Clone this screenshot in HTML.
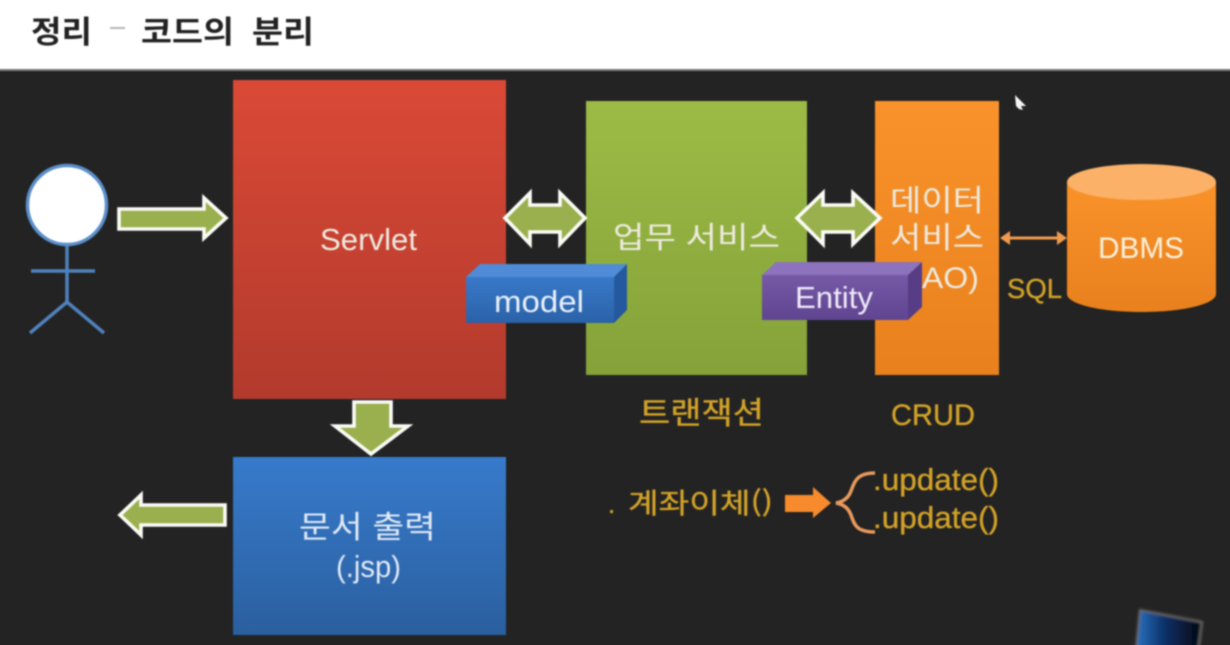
<!DOCTYPE html>
<html lang="ko">
<head>
<meta charset="utf-8">
<title>정리 - 코드의 분리</title>
<style>
html,body{margin:0;padding:0;width:1230px;height:645px;overflow:hidden;background:#232323}
#wrap{position:relative;width:1230px;height:645px;overflow:hidden;contain:strict}
svg{display:block;position:absolute;left:-10px;top:-10px;filter:blur(.75px)}
text{font-family:"Liberation Sans","NanumGothic","Noto Sans CJK KR",sans-serif}
.k{font-family:"Noto Sans CJK KR","NanumGothic","Liberation Sans",sans-serif}
.w{fill:#eeeadf}
.g{fill:#d2a228;stroke:#d2a228;stroke-width:.35}
.ar{fill:#9ab04f;stroke:#fafaf5;stroke-width:3.6;stroke-linejoin:miter}
</style>
</head>
<body>
<div id="wrap">
<svg width="1250" height="665" viewBox="-10 -10 1250 665" xmlns="http://www.w3.org/2000/svg">
<defs>
<linearGradient id="red" x1="0" y1="0" x2="0" y2="1"><stop offset="0" stop-color="#da4936"/><stop offset="1" stop-color="#b23a2c"/></linearGradient>
<linearGradient id="grn" x1="0" y1="0" x2="0" y2="1"><stop offset="0" stop-color="#9cbb45"/><stop offset="1" stop-color="#84a239"/></linearGradient>
<linearGradient id="org" x1="0" y1="0" x2="0" y2="1"><stop offset="0" stop-color="#f9922a"/><stop offset="1" stop-color="#e8811d"/></linearGradient>
<linearGradient id="blu" x1="0" y1="0" x2="0" y2="1"><stop offset="0" stop-color="#377acb"/><stop offset="1" stop-color="#2a5f9f"/></linearGradient>
<linearGradient id="mf" x1="0" y1="0" x2="0" y2="1"><stop offset="0" stop-color="#3878c8"/><stop offset="1" stop-color="#2a62a8"/></linearGradient>
<linearGradient id="ef" x1="0" y1="0" x2="0" y2="1"><stop offset="0" stop-color="#7659a6"/><stop offset="1" stop-color="#5f4490"/></linearGradient>
<linearGradient id="db" x1="0" y1="0" x2="0" y2="1"><stop offset="0" stop-color="#f9922a"/><stop offset="1" stop-color="#e8811d"/></linearGradient>
<linearGradient id="logo" x1="0" y1="0" x2="1" y2="0"><stop offset="0" stop-color="#2a74c4"/><stop offset=".45" stop-color="#0a2f66"/><stop offset="1" stop-color="#05070e"/></linearGradient>
<filter id="soft" x="-20%" y="-20%" width="140%" height="140%"><feGaussianBlur stdDeviation="1.300"/></filter>
</defs>

<rect x="-10" y="-10" width="1250" height="665" fill="#232323"/>
<rect x="-10" y="-10" width="1250" height="79" fill="#fff"/>
<rect x="-10" y="69" width="1250" height="2" fill="#7a7a7a"/>

<text class="k" x="31" y="43" font-size="31" font-weight="700" fill="#222" textLength="61" lengthAdjust="spacingAndGlyphs">정리</text>
<rect x="110" y="27" width="15" height="2" fill="#b5b5b5"/>
<text class="k" x="141" y="43" font-size="31" font-weight="700" fill="#222" textLength="93" lengthAdjust="spacingAndGlyphs">코드의</text>
<text class="k" x="252" y="43" font-size="31" font-weight="700" fill="#222" textLength="62" lengthAdjust="spacingAndGlyphs">분리</text>

<!-- person -->
<g stroke="#4f81bd" stroke-width="3.500" fill="none">
<line x1="67" y1="246" x2="67" y2="302"/>
<line x1="31" y1="271" x2="95" y2="271"/>
<polyline points="30,333 67,302 104,333"/>
</g>
<circle cx="67" cy="205" r="39.500" fill="#fff" stroke="#5b8fcb" stroke-width="3.500"/>

<!-- main blocks -->
<rect x="233" y="80" width="273" height="319" fill="url(#red)"/>
<rect x="586" y="101" width="221" height="274" fill="url(#grn)"/>
<rect x="875" y="101" width="124" height="274" fill="url(#org)"/>
<rect x="233" y="457" width="273" height="178" fill="url(#blu)"/>

<!-- arrows -->
<polygon class="ar" points="119,209 204,209 204,198 226,218 204,238 204,229 119,229"/>
<polygon class="ar" points="505,218 530,193 530,205 560,205 560,193 585,218 560,244 560,232 530,232 530,244"/>
<polygon class="ar" points="797,218 823,193 823,205 853,205 853,193 880,218 853,244 853,232 823,232 823,244"/>
<polygon class="ar" points="354,402 391,402 391,426 408,426 371,454 335,426 354,426"/>
<polygon class="ar" points="225,505 141,505 141,495 120,515 141,535 141,525 225,525"/>

<text x="320" y="250" font-size="31" class="w" textLength="97" lengthAdjust="spacingAndGlyphs">Servlet</text>
<text class="k w" x="613" y="248" font-size="30" textLength="167" lengthAdjust="spacingAndGlyphs">업무 서비스</text>
<text class="k w" x="890" y="211" font-size="30" textLength="94" lengthAdjust="spacingAndGlyphs">데이터</text>
<text class="k w" x="890" y="248" font-size="30" textLength="94" lengthAdjust="spacingAndGlyphs">서비스</text>
<text x="888" y="288" font-size="30" class="w" textLength="91" lengthAdjust="spacingAndGlyphs">(DAO)</text>
<text class="k" x="299" y="538" font-size="31" fill="#dfe9f5" textLength="137" lengthAdjust="spacingAndGlyphs">문서 출력</text>
<text x="336" y="577" font-size="31" fill="#dfe9f5" textLength="65" lengthAdjust="spacingAndGlyphs">(.jsp)</text>

<!-- model box -->
<polygon points="466,277 480,264 627,264 614,277" fill="#4f8bd6"/>
<polygon points="614,277 627,264 627,310 614,323" fill="#24599f"/>
<rect x="466" y="277" width="148" height="46" fill="url(#mf)"/>
<text x="494" y="312" font-size="31" fill="#e8f0fa" textLength="90" lengthAdjust="spacingAndGlyphs">model</text>

<!-- entity box -->
<polygon points="762,275 776,262 922,262 908,275" fill="#8d72bd"/>
<polygon points="908,275 922,262 922,307 908,320" fill="#563d85"/>
<rect x="762" y="275" width="146" height="45" fill="url(#ef)"/>
<text x="795" y="308" font-size="31" fill="#efe9f7" textLength="78" lengthAdjust="spacingAndGlyphs">Entity</text>

<!-- DBMS -->
<path d="M1067,182 V294 C1067,304 1100,312 1141.500,312 C1183,312 1216,304 1216,294 V182 Z" fill="url(#db)"/>
<ellipse cx="1141.500" cy="182" rx="74.500" ry="18" fill="#fbb168"/>
<text x="1098" y="258" font-size="30" fill="#fdf0dc" textLength="86" lengthAdjust="spacingAndGlyphs">DBMS</text>

<!-- SQL connector -->
<line x1="1005" y1="238" x2="1063" y2="238" stroke="#f09a4e" stroke-width="3"/>
<polygon points="1000,238 1010,231 1010,245" fill="#f09a4e"/>
<polygon points="1067,238 1057,231 1057,245" fill="#f09a4e"/>
<text x="1007" y="298" font-size="28" class="g" textLength="55" lengthAdjust="spacingAndGlyphs">SQL</text>

<text class="k g" x="639" y="424" font-size="31" textLength="125" lengthAdjust="spacingAndGlyphs">트랜잭션</text>
<text x="891" y="425" font-size="30" class="g" textLength="84" lengthAdjust="spacingAndGlyphs">CRUD</text>

<text x="608" y="513" font-size="26" class="g">.</text>
<text class="k g" x="628" y="513" font-size="28" textLength="145" lengthAdjust="spacingAndGlyphs">계좌이체()</text>
<polygon points="785,495 813,495 813,487 831,503 813,518 813,512 785,512" fill="#f68a2c"/>
<path d="M875,473 C855,473 854,484 851,491 C848,499 842,502 836,503 C842,504 848,507 851,515 C854,523 855,532 875,532" fill="none" stroke="#e9995c" stroke-width="3.500"/>
<text x="873" y="490" font-size="31" class="g" textLength="126" lengthAdjust="spacingAndGlyphs">.update()</text>
<text x="873" y="528" font-size="31" class="g" textLength="126" lengthAdjust="spacingAndGlyphs">.update()</text>

<!-- cursor -->
<polygon points="1015,95 1026,106 1021,106 1023,110 1019,109 1016,106" fill="#f4f4f4"/>

<!-- logo -->
<polygon points="1140,610 1202,622 1197,660 1135,660" fill="url(#logo)" stroke="#6e6e6e" stroke-width="2" filter="url(#soft)"/>
</svg>
</div>
</body>
</html>
